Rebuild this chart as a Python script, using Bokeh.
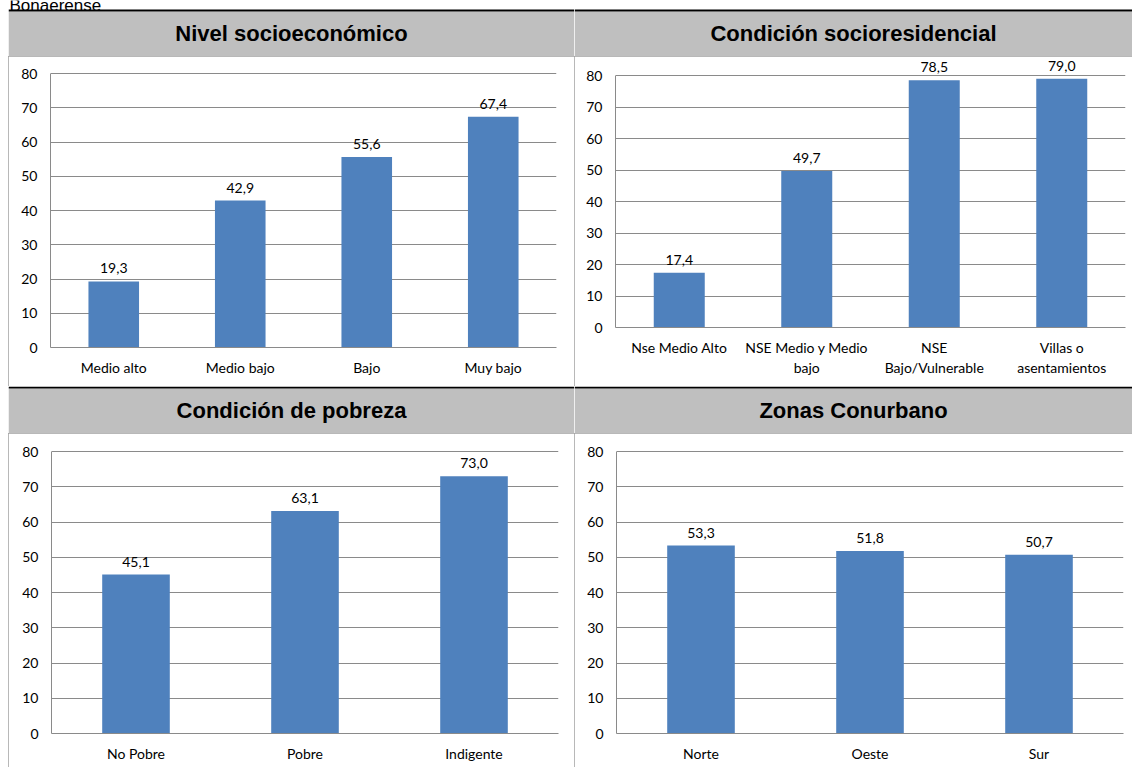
from bokeh.plotting import figure
from bokeh.models import (FactorRange, Range1d, FixedTicker, Label, LabelSet,
                          BoxAnnotation, ColumnDataSource)
from bokeh.layouts import column, row
from bokeh.embed import file_html
from bokeh.resources import INLINE
from bokeh.core.properties import value

# ---------------- data ----------------
page_title = "Bonaerense"

title_nse = "Nivel socioeconómico"
cats_nse = ["Medio alto", "Medio bajo", "Bajo", "Muy bajo"]
vals_nse = [19.3, 42.9, 55.6, 67.4]

title_res = "Condición socioresidencial"
cats_res = ["Nse Medio Alto", "NSE Medio y Medio\nbajo", "NSE\nBajo/Vulnerable", "Villas o\nasentamientos"]
vals_res = [17.4, 49.7, 78.5, 79.0]

title_pob = "Condición de pobreza"
cats_pob = ["No Pobre", "Pobre", "Indigente"]
vals_pob = [45.1, 63.1, 73.0]

title_zona = "Zonas Conurbano"
cats_zona = ["Norte", "Oeste", "Sur"]
vals_zona = [53.3, 51.8, 50.7]

y_ticks = [0, 10, 20, 30, 40, 50, 60, 70, 80]
y_max = 80

# ---------------- style ----------------
BAR = "#4f81bd"
GRID = "#8a8a8a"
HEAD = "#bfbfbf"
FONT = "Lato"
TFONT = "Liberation Sans"
BORDER = {"outline": "1px solid #a0a0a0", "outline-offset": "-1px"}


def header(text, w, h, with_page_title=False):
    p = figure(width=w, height=h, x_range=Range1d(0, w), y_range=Range1d(0, h),
               x_axis_type=None, y_axis_type=None, min_border=0,
               toolbar_location=None, output_backend="svg",
               outline_line_color=None, background_fill_color="white",
               border_fill_color="white")
    p.grid.visible = False
    line_top = 47
    p.add_layout(BoxAnnotation(bottom=0, top=line_top - 2, fill_color=HEAD, fill_alpha=1,
                               line_color=None))
    p.add_layout(BoxAnnotation(bottom=line_top - 2, top=line_top, fill_color="black",
                               fill_alpha=1, line_color=None))
    p.add_layout(Label(x=w / 2, y=line_top - 24, text=text, text_align="center",
                       text_baseline="middle", text_font=TFONT, text_font_style="bold",
                       text_font_size="22px", text_color="black"))
    if with_page_title:
        p.add_layout(Label(x=1, y=h - 5, text=page_title, text_align="left",
                           text_baseline="alphabetic", text_font=TFONT,
                           text_font_size="17px", text_color="black"))
    return p


def panel(cats, vals, w, h, lb, rb, tb, bb):
    # the frame reaches up to 2px below the panel top so that value labels
    # above the 80 line are not clipped; 80 stays at the same pixel.
    top_pad = 2
    y_end = y_max * (h - top_pad - bb) / (h - tb - bb)
    src = ColumnDataSource(dict(cat=cats, val=vals,
                                lab=[("%.1f" % v).replace(".", ",") for v in vals]))
    p = figure(x_range=FactorRange(factors=cats), y_range=Range1d(0, y_end),
               width=w, height=h, output_backend="svg", toolbar_location=None,
               min_border_left=lb, min_border_right=rb, min_border_top=top_pad,
               min_border_bottom=bb, background_fill_color="white",
               border_fill_color="white", outline_line_color=None, styles=BORDER)
    p.vbar(x="cat", top="val", width=0.4, source=src, fill_color=BAR, line_color=None)
    p.add_layout(LabelSet(x="cat", y="val", text="lab", source=src, text_align="center",
                          text_baseline="bottom", y_offset=8, text_font=value(FONT),
                          text_font_size=value("14px"), text_color=value("black")))
    p.xgrid.visible = False
    p.ygrid.ticker = FixedTicker(ticks=y_ticks)
    p.ygrid.grid_line_color = GRID
    p.yaxis.ticker = FixedTicker(ticks=y_ticks)
    p.yaxis.bounds = (0, y_max)
    for ax in (p.xaxis[0], p.yaxis[0]):
        ax.axis_line_color = GRID
        ax.major_tick_line_color = None
        ax.minor_tick_line_color = None
        ax.major_tick_in = 0
        ax.major_tick_out = 0
        ax.major_label_text_font = FONT
        ax.major_label_text_font_size = "14px"
        ax.major_label_text_color = "black"
    p.xaxis.major_label_standoff = 11
    p.yaxis.major_label_standoff = 13
    return p


h1 = header(title_nse, 566, 56, with_page_title=True)
h2 = header(title_res, 558, 56)
p1 = panel(cats_nse, vals_nse, 566, 330, 42, 18, 17, 39)
p2 = panel(cats_res, vals_res, 558, 330, 41, 7, 19, 59)
h3 = header(title_pob, 566, 47)
h4 = header(title_zona, 558, 47)
p3 = panel(cats_pob, vals_pob, 566, 334, 43, 16, 18, 34)
p4 = panel(cats_zona, vals_zona, 558, 334, 42, 9, 18, 34)

# each panel sits in its own column so that the row does not align their frames
layout = column(row(h1, h2),
                row(column(p1), column(p2)),
                row(h3, h4),
                row(column(p3), column(p4)),
                styles={"margin-left": "8px"})

open("out.html", "w").write(file_html(layout, INLINE))
